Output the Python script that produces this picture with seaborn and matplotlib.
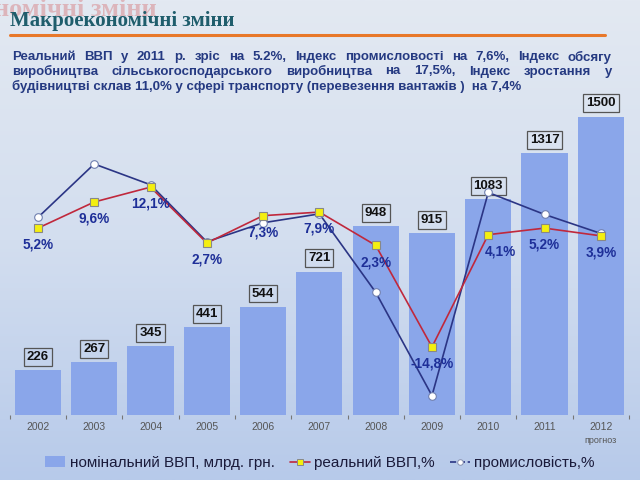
import numpy as np
import pandas as pd
import matplotlib
matplotlib.use("Agg")
import matplotlib.pyplot as plt
import seaborn as sns
from matplotlib.colors import LinearSegmentedColormap
from matplotlib.lines import Line2D
from matplotlib.patches import Patch

# ---------------- data ----------------
years = ["2002", "2003", "2004", "2005", "2006", "2007", "2008", "2009", "2010", "2011", "2012"]
nominal_gdp = [226, 267, 345, 441, 544, 721, 948, 915, 1083, 1317, 1500]
real_gdp = [5.2, 9.6, 12.1, 2.7, 7.3, 7.9, 2.3, -14.8, 4.1, 5.2, 3.9]
industry = [7.0, 16.0, 12.5, 2.9, 6.1, 7.6, -5.6, -23.0, 11.2, 7.5, 4.3]
real_labels = ["5,2%", "9,6%", "12,1%", "2,7%", "7,3%", "7,9%", "2,3%", "-14,8%", "4,1%", "5,2%", "3,9%"]
forecast_note = "прогноз"
title = "Макроекономічні зміни"
ghost_title = "номічні зміни"
paragraph = [
    "Реальний ВВП у 2011 р. зріс на 5.2%, Індекс промисловості на 7,6%, Індекс обсягу",
    "виробництва сільськогосподарського виробництва на 17,5%, Індекс зростання у",
    "будівництві склав 11,0% у сфері транспорту (перевезення вантажів )  на 7,4%",
]
legend_labels = ["номінальний ВВП, млрд. грн.", "реальний ВВП,%", "промисловість,%"]

df = pd.DataFrame({"year": years, "nominal": nominal_gdp})

# ---------------- style ----------------
sns.set_theme(style="white")
plt.rcParams["font.family"] = ["Liberation Sans", "DejaVu Sans"]

W, H = 640, 480
fig = plt.figure(figsize=(6.4, 4.8), dpi=100)

# background gradient
bg = fig.add_axes([0, 0, 1, 1], zorder=-10)
cmap = LinearSegmentedColormap.from_list("bg", ["#e3e9f2", "#d3deef", "#b7caea"])
bg.imshow(np.linspace(0, 1, 256)[:, None], aspect="auto", cmap=cmap,
          extent=[0, 1, 0, 1], origin="upper")
bg.set_axis_off()

bar_color = "#8aa6ea"
red = "#c0283c"
navy = "#2b3585"
label_blue = "#1e2f98"

# main axes (bars)
ax_left, ax_right = 9.8, 629.0
ax_top, ax_bottom = 100.0, 415.0
ax = fig.add_axes([ax_left / W, 1 - ax_bottom / H, (ax_right - ax_left) / W, (ax_bottom - ax_top) / H])
ax.patch.set_alpha(0)
sns.barplot(data=df, x="year", y="nominal", color=bar_color, width=0.82, ax=ax,
            saturation=1, edgecolor="none")
ax.set_xlim(-0.5, len(years) - 0.5)
ax.set_ylim(0, 1583)
for s in ax.spines.values():
    s.set_visible(False)
ax.set_yticks([])
ax.set_xlabel("")
ax.set_ylabel("")
ax.set_xticks(range(len(years)))
ax.set_xticklabels(years, fontsize=7.5, color="#555555")
ax.set_xticks(np.arange(-0.5, len(years), 1), minor=True)
ax.tick_params(axis="x", which="major", length=0, pad=5)
ax.tick_params(axis="x", which="minor", length=3, color="#777777", bottom=True, direction="out", width=0.8)

for i, v in enumerate(nominal_gdp):
    ax.annotate(str(v), (i, v), xytext=(0, 9.5), textcoords="offset points",
                ha="center", va="center", fontsize=9.5, fontweight="bold", color="#111111",
                bbox=dict(boxstyle="square,pad=0.22", fc="none", ec="#555555", lw=0.9),
                annotation_clip=False)

ax.text(len(years) - 1, -0.08, forecast_note, transform=ax.get_xaxis_transform(),
        ha="center", va="center", fontsize=6.5, color="#555555")

# percentage axis
ax2 = ax.twinx()
ax2.patch.set_alpha(0)
pos = np.arange(len(years))
sns.lineplot(x=pos, y=industry, ax=ax2, color=navy, lw=1.2, marker="o", markersize=5.5,
             markerfacecolor="white", markeredgecolor="#7080b0", markeredgewidth=0.8, zorder=3)
sns.lineplot(x=pos, y=real_gdp, ax=ax2, color=red, lw=1.2, marker="s", markersize=5.5,
             markerfacecolor="#f4ef10", markeredgecolor="#888888", markeredgewidth=0.8, zorder=4)
ax2.set_ylim(-26.26, 26.77)
ax2.set_xlim(-0.5, len(years) - 0.5)
ax2.set_yticks([])
for s in ax2.spines.values():
    s.set_visible(False)

for i, (v, lab) in enumerate(zip(real_gdp, real_labels)):
    dx = 9 if i == 8 else 0
    ax2.annotate(lab, (i, v), xytext=(dx, -12), textcoords="offset points",
                 ha="center", va="center", fontsize=9.8, fontweight="bold", color=label_blue,
                 annotation_clip=False, zorder=6)

# ---------------- header ----------------
fig.text(-6 / W, 1 - 9 / H, ghost_title, fontsize=19, fontweight="bold", color="#d04040",
         alpha=0.3, family=["Liberation Serif", "DejaVu Serif"], ha="left", va="center", zorder=-5)
fig.text(10 / W, 1 - 21 / H, title, fontsize=15, fontweight="bold", color="#1f5d6c",
         family=["Liberation Serif", "DejaVu Serif"], ha="left", va="center")
fig.add_artist(Line2D([10 / W, 605 / W], [1 - 35 / H, 1 - 35 / H], color="#e8782a", lw=2.2))

# justified paragraph
fig.canvas.draw()
renderer = fig.canvas.get_renderer()
p_left, p_right = 12, 612
line_y = [57, 71.5, 86]
pfont = dict(fontsize=9.5, fontweight="bold", color="#253a82", va="center", ha="left")
for li, line in enumerate(paragraph):
    y = 1 - line_y[li] / H
    if li == len(paragraph) - 1:
        fig.text(p_left / W, y, line, **pfont)
        continue
    words = line.split()
    texts = [fig.text(0, y, w_, **pfont) for w_ in words]
    widths = [t.get_window_extent(renderer).width for t in texts]
    gap = ((p_right - p_left) - sum(widths)) / (len(words) - 1)
    x = p_left
    for t, wd in zip(texts, widths):
        t.set_x(x / W)
        x += wd + gap

# ---------------- legend ----------------
handles = [
    Patch(facecolor=bar_color, edgecolor="none"),
    Line2D([], [], color=red, lw=1.2, marker="s", markersize=5, markerfacecolor="#f4ef10",
           markeredgecolor="#888888", markeredgewidth=0.7),
    Line2D([], [], color=navy, lw=1.2, ls="--", marker="o", markersize=4, markerfacecolor="white",
           markeredgecolor="#8890b0", markeredgewidth=0.7),
]
fig.legend(handles, legend_labels, loc="center", bbox_to_anchor=(0.5, 1 - 463 / H), ncol=3,
           frameon=False, fontsize=11, handlelength=1.3, handletextpad=0.3, columnspacing=1.0,
           labelcolor="#1a1a3a")

fig.savefig("out.png", dpi=100)
